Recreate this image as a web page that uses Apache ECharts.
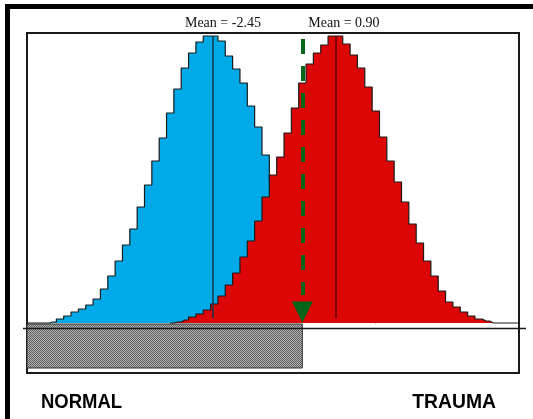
<!DOCTYPE html>
<html>
<head>
<meta charset="utf-8">
<script src="https://cdn.jsdelivr.net/npm/echarts@6/dist/echarts.min.js"></script>
<style>
  html, body { margin: 0; padding: 0; background: #fff; }
  #chart { width: 533px; height: 419px; }
</style>
</head>
<body>
<div id="chart"></div>
<script>
// histogram bin centres (score units) and heights
var normalBins = [-7.5, -7.0, -6.8, -6.6, -6.4, -6.2, -6.0, -5.8, -5.6, -5.4, -5.2, -5.0,
  -4.8, -4.6, -4.4, -4.2, -4.0, -3.8, -3.6, -3.4, -3.2, -3.0,
  -2.8, -2.6, -2.4, -2.2, -2.0, -1.8, -1.6, -1.4, -1.2, -1.0,
  -0.8, -0.6, -0.4, -0.2, 0.0, 0.2, 0.4, 0.6, 0.8, 1.0,
  1.2, 1.4, 1.6, 1.8, 2.0];
var normalCounts = [0, 0, 1, 4, 7, 11, 14, 18, 24, 34, 47, 62,
  78, 94, 116, 138, 162, 185, 210, 234, 255, 270,
  281, 287, 287, 282, 267, 254, 240, 217, 196, 168,
  142, 121, 97, 81, 65, 50, 36, 26, 19, 15,
  11, 7, 4, 2, 0];

var traumaBins = [-3.6, -3.4, -3.2, -3.0, -2.8, -2.6, -2.4, -2.2, -2.0, -1.8,
  -1.6, -1.4, -1.2, -1.0, -0.8, -0.6, -0.4, -0.2, 0.0, 0.2,
  0.4, 0.6, 0.8, 1.0, 1.2, 1.4, 1.6, 1.8, 2.0, 2.2,
  2.4, 2.6, 2.8, 3.0, 3.2, 3.4, 3.6, 3.8, 4.0, 4.2,
  4.4, 4.6, 4.8, 5.0, 5.2, 5.9];
var traumaCounts = [0, 1, 3, 6, 9, 13, 19, 27, 38, 50,
  66, 82, 102, 126, 148, 166, 190, 215, 240, 259,
  270, 278, 287, 287, 279, 268, 255, 236, 212, 186,
  162, 141, 121, 99, 80, 62, 47, 32, 21, 16,
  11, 7, 4, 2, 0, 0];

var normalMean = -2.45;
var traumaMean = 0.90;
var cutoff = 0;
var groupLabels = ["NORMAL", "TRAUMA"];

var xMin = -7.5, xMax = 5.9;
var yMin = -50, yMax = 290;

function pairs(xs, ys) {
  var out = [];
  for (var i = 0; i < xs.length; i++) out.push([xs[i], ys[i]]);
  return out;
}

// fine checker fill for the grey box
var pat = document.createElement("canvas");
pat.width = 2; pat.height = 2;
var pc = pat.getContext("2d");
pc.fillStyle = "#b4b4b4"; pc.fillRect(0, 0, 2, 2);
pc.fillStyle = "#5e5e5e"; pc.fillRect(0, 0, 1, 1); pc.fillRect(1, 1, 1, 1);

var green = "#06641a";
var chart = echarts.init(document.getElementById("chart"));

var option = {
  animation: false,
  grid: {
    left: 27, right: 14, top: 33, bottom: 46,
    show: true, borderColor: "#1a1a1a", borderWidth: 2, backgroundColor: "#fff"
  },
  xAxis: {
    type: "value", min: xMin, max: xMax,
    axisLine: { show: false }, axisTick: { show: false },
    axisLabel: { show: false }, splitLine: { show: false }
  },
  yAxis: {
    type: "value", min: yMin, max: yMax,
    axisLine: { show: false }, axisTick: { show: false },
    axisLabel: { show: false }, splitLine: { show: false }
  },
  series: [
    {
      name: "Normal", type: "line", step: "middle", symbol: "none",
      data: pairs(normalBins, normalCounts),
      lineStyle: { color: "#1a1a1a", width: 1.2 },
      areaStyle: { color: "#00aae8", opacity: 1 },
      z: 2
    },
    {
      name: "Trauma", type: "line", step: "middle", symbol: "none",
      data: pairs(traumaBins, traumaCounts),
      lineStyle: { color: "#1a1a1a", width: 1.2 },
      areaStyle: { color: "#dd0606", opacity: 1 },
      z: 3,
      markArea: {
        silent: true,
        itemStyle: { color: { image: pat, repeat: "repeat" }, borderColor: "#333", borderWidth: 1 },
        data: [[{ coord: [xMin, -1] }, { coord: [cutoff, -45] }]]
      },
      markLine: {
        silent: true, symbol: ["none", "none"], label: { show: false },
        data: [
          [{ coord: [normalMean, 287], lineStyle: { color: "#153549", width: 1.5, type: "solid" } },
           { coord: [normalMean, 5] }],
          [{ coord: [traumaMean, 287], lineStyle: { color: "#5e0000", width: 1.5, type: "solid" } },
           { coord: [traumaMean, 5] }],
          [{ coord: [cutoff, 284], lineStyle: { color: green, width: 4, type: [15, 12] } },
           { coord: [cutoff, 28] }]
        ]
      }
    },
    {
      name: "cut", type: "scatter", silent: true,
      symbol: "triangle", symbolRotate: 180, symbolSize: [21, 21],
      itemStyle: { color: green, opacity: 1 },
      data: [[cutoff, 11]],
      z: 5
    }
  ]
};
chart.setOption(option);

// annotations placed from the axes
var pNorm = chart.convertToPixel({ gridIndex: 0 }, [normalMean, 0]);
var pTrau = chart.convertToPixel({ gridIndex: 0 }, [traumaMean, 0]);
var base = chart.convertToPixel({ gridIndex: 0 }, [xMin, -5.5]);
var baseEnd = chart.convertToPixel({ gridIndex: 0 }, [xMax, -5.5]);

var labelFont = "bold 21px 'Liberation Sans', Arial, sans-serif";
chart.setOption({
  graphic: [
    { type: "rect", shape: { x: 5, y: 4, width: 528, height: 5 }, style: { fill: "#000" } },
    { type: "rect", shape: { x: 5, y: 4, width: 5, height: 415 }, style: { fill: "#000" } },
    { type: "line", shape: { x1: base[0] - 4, y1: base[1], x2: baseEnd[0] + 7, y2: base[1] },
      style: { stroke: "#1a1a1a", lineWidth: 1.5 }, z: 10 },
    { type: "text", x: pNorm[0] + 10.5, y: 23,
      style: { text: "Mean = -" + Math.abs(normalMean).toFixed(2), font: "14px 'Liberation Serif'", fill: "#111", align: "center", verticalAlign: "middle" } },
    { type: "text", x: pTrau[0] + 8.5, y: 23,
      style: { text: "Mean = " + traumaMean.toFixed(2), font: "14px 'Liberation Serif'", fill: "#111", align: "center", verticalAlign: "middle" } },
    { type: "text", x: 41, y: 402, scaleX: 0.88,
      style: { text: groupLabels[0], font: labelFont, fill: "#000", align: "left", verticalAlign: "middle" } },
    { type: "text", x: 496, y: 402, scaleX: 0.92,
      style: { text: groupLabels[1], font: labelFont, fill: "#000", align: "right", verticalAlign: "middle" } }
  ]
});
</script>
</body>
</html>
